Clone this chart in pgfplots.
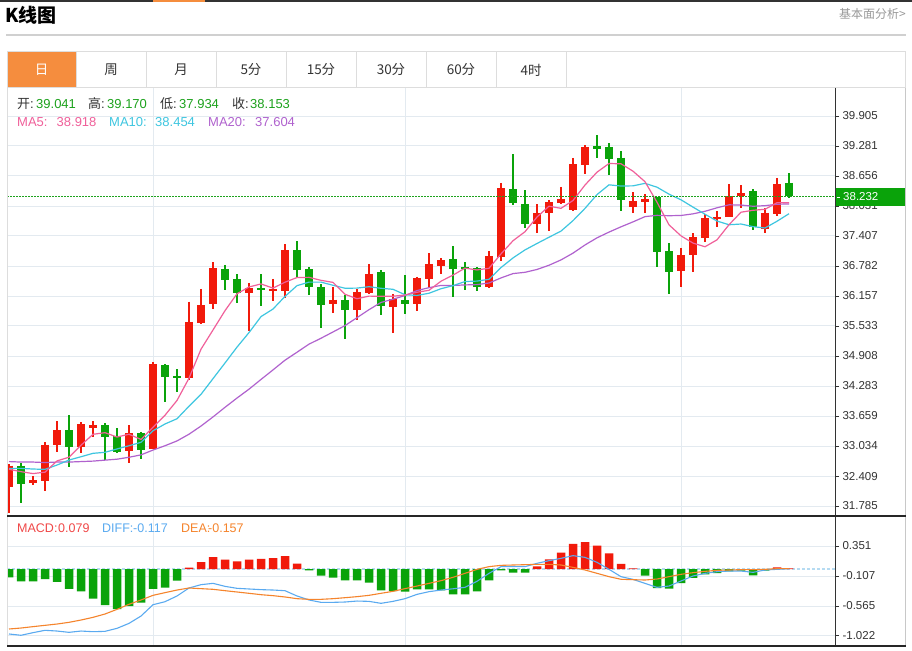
\documentclass[border=0pt]{standalone}
\usepackage{pgfplots}
\pgfplotsset{compat=1.18}
\usepackage{pgfplotstable}
\usepackage{fontspec}
\setmainfont{Liberation Sans}
\newfontfamily\cjk{Noto Sans CJK SC}
\definecolor{cred}{HTML}{F11A0B}
\definecolor{cgreen}{HTML}{0AA30A}
\definecolor{tgreen}{HTML}{1DA21D}
\definecolor{ma5c}{HTML}{F0609A}
\definecolor{ma10c}{HTML}{3EC6E0}
\definecolor{ma20c}{HTML}{B062CE}
\definecolor{diffc}{HTML}{5AAAF0}
\definecolor{deac}{HTML}{F5842C}
\definecolor{macdc}{HTML}{F04848}
\definecolor{gridc}{HTML}{E3EAF0}
\definecolor{zeroc}{HTML}{B5DBF2}
\definecolor{txt}{HTML}{333333}
\definecolor{tabor}{HTML}{F58D3E}
\definecolor{lined}{HTML}{DDDDDD}
\definecolor{topc}{HTML}{333333}
\definecolor{grayt}{HTML}{999999}
\definecolor{sepc}{HTML}{D0D0D0}
\definecolor{rbord}{HTML}{C8C8C8}
\newcommand\myfs[1]{\fontsize{#1}{#1}\selectfont}

\pgfplotstableread{
i o h l c
0 32.186 32.659 31.639 32.624
2 32.263 32.415 32.222 32.326
3 32.305 33.111 32.103 33.061
4 33.054 33.554 32.909 33.367
6 33.019 33.527 32.882 33.492
7 33.408 33.548 33.227 33.465
10 32.923 33.471 32.673 33.298
12 32.977 34.776 32.971 34.734
15 34.443 36.042 34.408 35.621
16 35.600 36.308 35.573 35.963
17 35.990 36.864 35.892 36.733
20 36.212 36.433 35.434 36.329
22 36.254 36.516 36.058 36.296
23 36.260 37.232 36.121 37.107
27 35.990 36.337 35.796 36.083
29 35.865 36.296 35.657 36.239
30 36.212 36.816 36.198 36.620
32 35.933 36.198 35.392 36.087
34 35.990 36.558 35.850 36.531
35 36.510 37.051 36.350 36.816
36 36.787 36.941 36.614 36.906
40 36.350 37.093 36.323 36.989
41 36.974 38.515 36.891 38.404
44 37.649 38.071 37.474 37.878
45 37.878 38.155 37.515 38.113
46 38.092 38.431 38.071 38.182
47 37.940 39.035 37.932 38.904
48 38.883 39.300 38.696 39.264
52 38.005 38.321 37.884 38.134
53 38.119 38.279 37.890 38.169
56 36.677 37.162 36.350 37.003
57 37.003 37.461 36.650 37.384
58 37.364 37.863 37.287 37.786
59 37.759 37.926 37.599 37.801
60 37.801 38.488 37.795 38.238
61 38.244 38.461 37.982 38.300
63 37.557 37.982 37.474 37.890
64 37.863 38.619 37.822 38.488
}\up

\pgfplotstableread{
i o h l c
1 32.624 32.673 31.853 32.243
5 33.367 33.679 32.603 33.007
8 33.465 33.506 32.742 33.227
9 33.242 33.408 32.882 32.915
11 33.298 33.319 32.757 32.950
13 34.714 34.741 33.943 34.476
14 34.491 34.630 34.164 34.455
18 36.724 36.808 36.281 36.489
19 36.504 36.614 36.004 36.212
21 36.316 36.614 35.948 36.281
24 37.114 37.301 36.525 36.697
25 36.718 36.760 36.183 36.350
26 36.344 36.406 35.490 35.969
28 36.073 36.177 35.261 35.865
31 36.649 36.697 35.767 35.954
33 36.073 36.587 35.781 35.990
37 36.922 37.197 36.142 36.718
38 36.766 36.864 36.275 36.718
39 36.733 36.760 36.260 36.344
42 38.384 39.112 38.051 38.086
43 38.071 38.363 37.565 37.655
49 39.279 39.508 39.035 39.216
50 39.264 39.335 38.685 39.014
51 39.041 39.170 37.934 38.153
54 38.211 38.223 36.766 37.078
55 37.093 37.253 36.192 36.662
62 38.342 38.377 37.530 37.586
65 38.515 38.717 38.196 38.232
}\dn

\pgfplotstableread{
i ma5 ma10 ma20
0 32.55 32.569 32.71
1 32.50 32.569 32.70
2 32.46 32.555 32.70
3 32.49 32.548 32.69
4 32.724 32.638 32.70
5 32.801 32.742 32.70
6 33.051 32.811 32.71
7 33.278 32.882 32.72
8 33.312 32.903 32.74
9 33.221 32.973 32.76
10 33.279 33.040 32.80
11 33.171 33.111 32.85
12 33.425 33.352 32.95
13 33.675 33.493 33.04
14 33.983 33.602 33.14
15 34.447 33.863 33.28
16 35.050 34.110 33.45
17 35.450 34.437 33.64
18 35.852 34.763 33.84
19 36.204 35.093 34.033
20 36.345 35.396 34.218
21 36.409 35.729 34.420
22 36.321 35.886 34.619
23 36.445 36.149 34.821
24 36.542 36.373 34.987
25 36.546 36.446 35.155
26 36.484 36.446 35.278
27 36.441 36.381 35.409
28 36.193 36.319 35.541
29 36.101 36.322 35.707
30 36.155 36.351 35.873
31 36.152 36.318 36.024
32 36.153 36.297 36.091
33 36.178 36.185 36.167
34 36.236 36.169 36.271
35 36.276 36.215 36.331
36 36.466 36.309 36.378
37 36.592 36.373 36.377
38 36.738 36.458 36.388
39 36.700 36.468 36.395
40 36.735 36.505 36.428
41 37.035 36.750 36.534
42 37.308 36.950 36.624
43 37.496 37.117 36.651
44 37.802 37.251 36.710
45 38.027 37.381 36.798
46 37.983 37.509 36.909
47 38.146 37.727 37.050
48 38.468 37.982 37.220
49 38.736 38.269 37.369
50 38.916 38.472 37.488
51 38.910 38.447 37.598
52 38.756 38.451 37.701
53 38.537 38.503 37.810
54 38.110 38.423 37.837
55 37.639 38.278 37.829
56 37.409 38.160 37.834
57 37.259 38.008 37.868
58 37.183 37.860 37.921
59 37.327 37.718 37.994
60 37.642 37.641 38.056
61 37.902 37.656 38.051
62 37.942 37.601 38.026
63 37.963 37.573 38.038
64 38.100 37.714 38.068
65 38.099 37.871 38.074
}\ma

\pgfplotstableread{
i diff dea
0 -0.992 -0.916
1 -1.012 -0.901
2 -0.972 -0.880
3 -0.936 -0.860
4 -0.947 -0.840
5 -0.967 -0.814
6 -0.947 -0.779
7 -0.957 -0.738
8 -0.952 -0.687
9 -0.906 -0.616
10 -0.830 -0.539
11 -0.718 -0.473
12 -0.545 -0.402
13 -0.499 -0.361
14 -0.412 -0.321
15 -0.290 -0.290
16 -0.239 -0.300
17 -0.219 -0.310
18 -0.265 -0.331
19 -0.295 -0.351
20 -0.305 -0.371
21 -0.315 -0.392
22 -0.321 -0.407
23 -0.331 -0.427
24 -0.412 -0.453
25 -0.473 -0.463
26 -0.509 -0.463
27 -0.509 -0.453
28 -0.504 -0.438
29 -0.489 -0.422
30 -0.494 -0.402
31 -0.524 -0.371
32 -0.494 -0.341
33 -0.453 -0.300
34 -0.387 -0.260
35 -0.346 -0.219
36 -0.321 -0.178
37 -0.302 -0.127
38 -0.280 -0.066
39 -0.188 -0.005
40 -0.066 0.036
41 0.036 0.056
42 0.036 0.061
43 0.036 0.066
44 0.087 0.071
45 0.127 0.071
46 0.163 0.061
47 0.204 0.025
48 0.178 -0.015
49 0.102 -0.066
50 -0.005 -0.117
51 -0.117 -0.157
52 -0.158 -0.163
53 -0.219 -0.168
54 -0.280 -0.153
55 -0.260 -0.117
56 -0.183 -0.081
57 -0.107 -0.056
58 -0.066 -0.036
59 -0.041 -0.020
60 -0.031 -0.015
61 -0.031 -0.010
62 -0.051 -0.010
63 -0.015 -0.005
64 -0.005 0.005
65 0.005 0.005
}\macdtab

\pgfplotsset{
  kaxis/.style={
    scale only axis, width=828pt,
    xmin=-0.1667, xmax=68.833,
    axis line style={draw=none},
    xtick={12,33,56}, xticklabels={}, xmajorgrids,
    xtick style={draw=none},
    ymajorgrids,
    grid style={draw=gridc, line width=1pt},
    ytick pos=right, yticklabel pos=right,
    tick align=outside, major tick length=4pt,
    ytick style={draw=txt, line width=0.9pt},
    yticklabel style={font=\myfs{11.5}, text=txt},
  },
  wick/.style={draw=none, mark=none, forget plot,
    error bars/.cd, y dir=minus, y explicit, error mark=none,
    error bar style={draw=#1, line width=1.2pt}},
  body/.style={draw=none, mark=none, forget plot,
    error bars/.cd, y dir=minus, y explicit, error mark=none,
    error bar style={draw=#1, line width=8.5pt}},
}

\begin{document}
\begin{tikzpicture}
\useasboundingbox (0,0) rectangle (912pt,-650pt);
\fill[white] (0,0) rectangle (912pt,-650pt);

% header
\fill[topc] (0,0) rectangle (912pt,-2.5pt);
\fill[tabor] (153pt,0) rectangle (205pt,-2.5pt);
\node[anchor=base west, inner sep=0, font=\cjk\bfseries\myfs{19}] at (5pt,-22.5pt) {K线图};
\node[anchor=base east, inner sep=0, font=\cjk\myfs{12}, text=grayt] at (906pt,-18.5pt) {基本面分析>};
\draw[sepc, line width=1.2pt] (6pt,-35pt) -- (906pt,-35pt);

% tabs
\fill[tabor] (7pt,-52pt) rectangle (76pt,-87.5pt);
\draw[lined, line width=1pt] (7pt,-52pt) rectangle (905.5pt,-87.5pt);
\foreach \x in {76,146,216,286,356,426,496,566} \draw[lined, line width=1pt] (\x pt,-52pt) -- (\x pt,-87.5pt);
\node[font=\cjk\myfs{13.5}, text=white] at (41.5pt,-70pt) {日};
\node[font=\cjk\myfs{13.5}, text=txt] at (111pt,-70pt) {周};
\node[font=\cjk\myfs{13.5}, text=txt] at (181pt,-70pt) {月};
\node[font=\cjk\myfs{13.5}, text=txt] at (251pt,-70pt) {5分};
\node[font=\cjk\myfs{13.5}, text=txt] at (321pt,-70pt) {15分};
\node[font=\cjk\myfs{13.5}, text=txt] at (391pt,-70pt) {30分};
\node[font=\cjk\myfs{13.5}, text=txt] at (461pt,-70pt) {60分};
\node[font=\cjk\myfs{13.5}, text=txt] at (531pt,-70pt) {4时};

% main candlestick panel
\begin{axis}[kaxis,
  at={(7pt,-516pt)}, anchor=south west, height=428pt,
  ymin=31.577, ymax=40.488,
  ytick={31.785,32.409,33.034,33.659,34.283,34.908,35.533,36.157,36.782,37.407,38.031,38.656,39.281,39.905},
  yticklabels={31.785,32.409,33.034,33.659,34.283,34.908,35.533,36.157,36.782,37.407,38.031,38.656,39.281,39.905},
]
\addplot[wick=cred] table[x=i, y=h, y error minus expr=\thisrow{h}-\thisrow{l}] {\up};
\addplot[body=cred] table[x=i, y=c, y error minus expr=\thisrow{c}-\thisrow{o}] {\up};
\addplot[wick=cgreen] table[x=i, y=h, y error minus expr=\thisrow{h}-\thisrow{l}] {\dn};
\addplot[body=cgreen] table[x=i, y=o, y error minus expr=\thisrow{o}-\thisrow{c}] {\dn};
\addplot[ma20c, line width=1.2pt, mark=none] table[x=i, y=ma20] {\ma};
\addplot[ma10c, line width=1.2pt, mark=none] table[x=i, y=ma10] {\ma};
\addplot[ma5c, line width=1.2pt, mark=none] table[x=i, y=ma5] {\ma};
\addplot[tgreen, line width=0.9pt, dash pattern=on 1.5pt off 1.5pt, mark=none, forget plot] coordinates {(-0.1667,38.232) (68.833,38.232)};
\end{axis}

% MACD panel
\begin{axis}[kaxis,
  at={(7pt,-646pt)}, anchor=south west, height=130pt,
  ymin=-1.1756, ymax=0.8092,
  ytick={-1.022,-0.565,-0.107,0.351},
  yticklabels={-1.022,-0.565,-0.107,0.351},
]
\addplot[zeroc, line width=1.6pt, dash pattern=on 3pt off 2pt, mark=none, forget plot] coordinates {(-0.1667,0) (68.833,0)};
\addplot[ybar, bar width=8.5pt, bar shift=0pt, fill=cgreen, draw=none] coordinates {
(0,-0.127) (1,-0.188) (2,-0.188) (3,-0.153) (4,-0.198) (5,-0.305) (6,-0.341) (7,-0.453) (8,-0.550) (9,-0.611) (10,-0.565) (11,-0.514) (12,-0.305) (13,-0.285) (14,-0.178) (25,-0.020) (26,-0.102) (27,-0.132) (28,-0.173) (29,-0.173) (30,-0.209) (31,-0.326) (32,-0.336) (33,-0.346) (34,-0.310) (35,-0.310) (36,-0.326) (37,-0.387) (38,-0.387) (39,-0.341) (40,-0.173) (41,-0.020) (42,-0.056) (43,-0.056) (53,-0.102) (54,-0.290) (55,-0.300) (56,-0.214) (57,-0.137) (58,-0.081) (59,-0.061) (60,-0.036) (61,-0.025) (62,-0.097) (63,-0.025)};
\addplot[ybar, bar width=8.5pt, bar shift=0pt, fill=cred, draw=none] coordinates {
(15,0.020) (16,0.107) (17,0.183) (18,0.142) (19,0.117) (20,0.142) (21,0.153) (22,0.168) (23,0.198) (24,0.081) (44,0.041) (45,0.148) (46,0.249) (47,0.382) (48,0.412) (49,0.356) (50,0.239) (51,0.079) (52,0.010) (64,0.025) (65,0.008)};
\addplot[diffc, line width=1.1pt, mark=none] table[x=i, y=diff] {\macdtab};
\addplot[deac, line width=1.1pt, mark=none] table[x=i, y=dea] {\macdtab};
\end{axis}

% frame lines
\draw[lined, line width=1pt] (7pt,-88pt) -- (7pt,-646pt);
\draw[rbord, line width=1pt] (905.5pt,-88pt) -- (905.5pt,-646pt);
\draw[txt, line width=1pt] (835pt,-88pt) -- (835pt,-646pt);
\draw[black!85, line width=1.3pt] (7pt,-516pt) -- (906pt,-516pt);
\draw[black!85, line width=1.3pt] (7pt,-646pt) -- (906pt,-646pt);

% current price box
\fill[cgreen] (836pt,-188pt) rectangle (905pt,-206pt);
\draw[white, line width=0.9pt] (836.5pt,-197pt) -- (840pt,-197pt);
\node[anchor=west, inner sep=0, text=white, font=\myfs{11.5}] at (843pt,-197pt) {38.232};

% info rows
\node[anchor=base west, inner sep=0, font=\myfs{13}, text=txt] at (17pt,-109pt) {{\cjk 开}:};
\node[anchor=base west, inner sep=0, font=\myfs{13}, text=tgreen] at (36pt,-109pt) {39.041};
\node[anchor=base west, inner sep=0, font=\myfs{13}, text=txt] at (88pt,-109pt) {{\cjk 高}:};
\node[anchor=base west, inner sep=0, font=\myfs{13}, text=tgreen] at (107pt,-109pt) {39.170};
\node[anchor=base west, inner sep=0, font=\myfs{13}, text=txt] at (160pt,-109pt) {{\cjk 低}:};
\node[anchor=base west, inner sep=0, font=\myfs{13}, text=tgreen] at (179pt,-109pt) {37.934};
\node[anchor=base west, inner sep=0, font=\myfs{13}, text=txt] at (232pt,-109pt) {{\cjk 收}:};
\node[anchor=base west, inner sep=0, font=\myfs{13}, text=tgreen] at (250pt,-109pt) {38.153};

\node[anchor=base west, inner sep=0, font=\myfs{13}, text=ma5c] at (17pt,-127pt) {MA5:};
\node[anchor=base west, inner sep=0, font=\myfs{13}, text=ma5c] at (56.5pt,-127pt) {38.918};
\node[anchor=base west, inner sep=0, font=\myfs{13}, text=ma10c] at (109pt,-127pt) {MA10:};
\node[anchor=base west, inner sep=0, font=\myfs{13}, text=ma10c] at (155pt,-127pt) {38.454};
\node[anchor=base west, inner sep=0, font=\myfs{13}, text=ma20c] at (208pt,-127pt) {MA20:};
\node[anchor=base west, inner sep=0, font=\myfs{13}, text=ma20c] at (255pt,-127pt) {37.604};

\node[anchor=base west, inner sep=0, font=\myfs{12.5}, text=macdc] at (17pt,-532pt) {MACD:};
\node[anchor=base west, inner sep=0, font=\myfs{12.5}, text=macdc] at (58pt,-532pt) {0.079};
\node[anchor=base west, inner sep=0, font=\myfs{12.5}, text=diffc] at (102pt,-532pt) {DIFF:};
\node[anchor=base west, inner sep=0, font=\myfs{12.5}, text=diffc] at (133pt,-532pt) {-0.117};
\node[anchor=base west, inner sep=0, font=\myfs{12.5}, text=deac] at (181pt,-532pt) {DEA:};
\node[anchor=base west, inner sep=0, font=\myfs{12.5}, text=deac] at (208pt,-532pt) {-0.157};
\end{tikzpicture}
\end{document}
